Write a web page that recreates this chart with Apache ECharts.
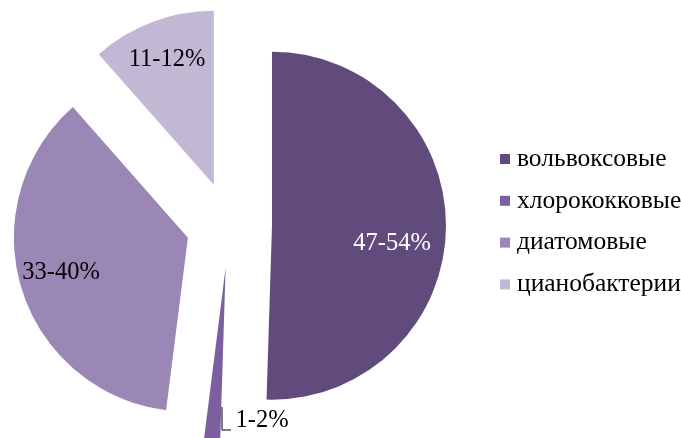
<!DOCTYPE html>
<html>
<head>
<meta charset="utf-8">
<script src="https://cdn.jsdelivr.net/npm/echarts@6/dist/echarts.min.js"></script>
<style>
html, body { margin: 0; padding: 0; background: #fff; }
#chart { width: 681px; height: 438px; }
</style>
</head>
<body>
<div id="chart"></div>
<script>
// группы водорослей и их доля, %
var groups = ['вольвоксовые', 'хлорококковые', 'диатомовые', 'цианобактерии'];
var shares = [50.5, 1.5, 36.5, 11.5];
var rangeLabels = ['47-54%', '1-2%', '33-40%', '11-12%'];

var colors = ['#614b7c', '#7b5fa0', '#9a87b5', '#c2b8d3'];
var labelColors = ['#fff', '#000', '#000', '#000'];
// где стоят подписи (центр текста)
var labelPos = [[392, 244], [262, 421], [61, 273], [167, 60]];

var cx0 = 229, cy0 = 225, R = 174, explode = 43;

var myChart = echarts.init(document.getElementById('chart'));

var total = 0;
for (var k = 0; k < shares.length; k++) total += shares[k];

// каждый сектор - своя серия, чтобы "выдвинуть" его из центра
var seriesList = [];
var acc = 0;
for (var i = 0; i < groups.length; i++) {
	var mid = (acc + shares[i] / 2) / total * Math.PI * 2;
	acc += shares[i];
	var items = [];
	for (var j = 0; j < groups.length; j++) {
		items.push({
			name: groups[j],
			value: shares[j],
			itemStyle: { color: j == i ? colors[j] : 'rgba(0,0,0,0)' },
			label: {
				show: j == i,
				position: j == 1 ? 'outside' : 'inside',
				color: labelColors[j]
			},
			labelLine: { show: j == i && j == 1 }
		});
	}
	seriesList.push({
		type: 'pie',
		silent: true,
		center: [cx0 + explode * Math.sin(mid), cy0 - explode * Math.cos(mid)],
		radius: R,
		startAngle: 90,
		clockwise: true,
		avoidLabelOverlap: false,
		label: {
			fontFamily: 'Liberation Serif',
			fontSize: 24.5,
			formatter: function (p) {
				return rangeLabels[p.dataIndex];
			}
		},
		labelLine: {
			lineStyle: { color: '#000', width: 1 }
		},
		labelLayout: function (p) {
			var pos = labelPos[p.dataIndex];
			var res = { x: pos[0], y: pos[1], align: 'center', verticalAlign: 'middle' };
			if (p.dataIndex == 1) {
				res.labelLinePoints = [
					[pos[0] - 40, pos[1] - 14],
					[pos[0] - 40, pos[1] + 9],
					[pos[0] - 31, pos[1] + 9]
				];
			}
			return res;
		},
		data: items
	});
}

var legendData = [];
for (var n = 0; n < groups.length; n++) {
	legendData.push({ name: groups[n], itemStyle: { color: colors[n], opacity: 1 } });
}

var option = {
	backgroundColor: '#fff',
	animation: false,
	legend: {
		orient: 'vertical',
		left: 495,
		top: 141,
		icon: 'rect',
		itemWidth: 10,
		itemHeight: 10,
		itemGap: 15.8,
		selectedMode: false,
		textStyle: {
			fontFamily: 'Liberation Serif',
			fontSize: 25.5,
			color: '#000',
			padding: [0, 0, 0, 2]
		},
		data: legendData
	},
	series: seriesList
};
myChart.setOption(option);
</script>
</body>
</html>
